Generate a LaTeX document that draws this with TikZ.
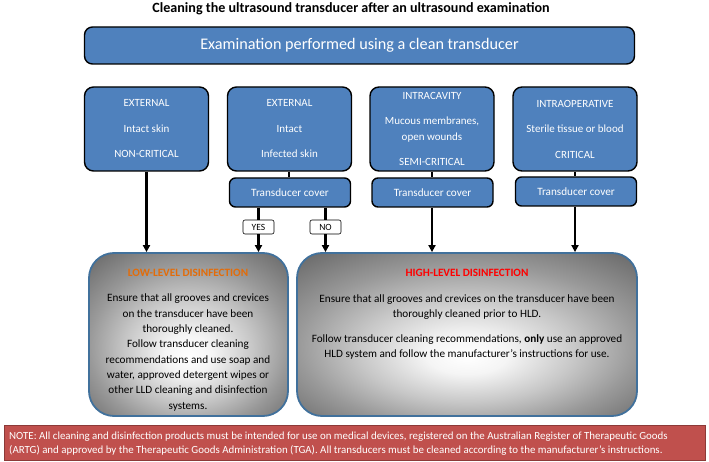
\documentclass[tikz,border=0pt]{standalone}
\usepackage{fontspec}
\setmainfont{Carlito}
\usetikzlibrary{arrows.meta}
\definecolor{boxblue}{HTML}{4F81BD}
\definecolor{edgeblue}{HTML}{41719C}
\definecolor{notered}{HTML}{C0504D}
\definecolor{noteedge}{HTML}{8C3A38}
\definecolor{llorange}{HTML}{E36C09}
\definecolor{hlred}{HTML}{FF0000}
\pgfdeclareradialshading{softrad}{\pgfpoint{0bp}{-7bp}}{%
  color(0bp)=(white); color(6bp)=(black!4); color(16bp)=(black!22);
  color(25bp)=(black!40); color(35bp)=(black!57); color(50bp)=(black!57)}
\tikzset{
  catbox/.style={draw=black, line width=1.4pt, fill=boxblue, rounded corners=9pt,
    text=white, minimum width=124pt, minimum height=84pt, inner sep=0pt,
    align=center, font=\fontsize{11}{12}\selectfont},
  coverbox/.style={draw=black, line width=1.4pt, fill=boxblue, rounded corners=6pt,
    text=white, minimum width=121pt, minimum height=29pt, inner sep=0pt,
    font=\fontsize{11.2}{12}\selectfont},
  yesno/.style={draw=black, line width=0.6pt, fill=white, rounded corners=2pt,
    minimum width=31pt, minimum height=14pt, inner sep=0pt,
    font=\fontsize{9.5}{10}\selectfont},
  disbox/.style={draw=edgeblue, line width=1.8pt, rounded corners=25pt,
    shade, shading=softrad, inner sep=0pt},
  link/.style={line width=2.2pt},
  arrow/.style={line width=2.2pt, -{Triangle[length=7pt,width=7pt]}},
  bodytext/.style={align=center, font=\fontsize{11.2}{15.3}\selectfont, inner sep=0pt}
}
\begin{document}
\begin{tikzpicture}[x=1pt,y=-1pt]
\useasboundingbox[fill=white] (0,0) rectangle (709,462);

\node (title) at (351,9) {\fontsize{14.1}{16}\selectfont\bfseries Cleaning the ultrasound transducer after an ultrasound examination};

\node (top) [draw=black, line width=1.4pt, fill=boxblue, rounded corners=8pt,
  minimum width=550pt, minimum height=37pt, text=white,
  font=\fontsize{16.2}{18}\selectfont] at (359.5,45.5)
  {Examination performed using a clean transducer};

\node (b1) [catbox] at (146.5,129) {EXTERNAL\\[13.5pt]Intact skin\\[13.5pt]NON-CRITICAL};
\node (b2) [catbox] at (289.5,129) {EXTERNAL\\[13.5pt]Intact\\[13.5pt]Infected skin};
\node (b3) [catbox] at (432,129) {INTRACAVITY\\[13pt]Mucous membranes,\\[4pt]open wounds\\[13pt]SEMI-CRITICAL};
\node (b4) [catbox] at (575,129) {INTRAOPERATIVE\\[13.5pt]Sterile tissue or blood\\[13.5pt]CRITICAL};

\node (c2) [coverbox] at (290,192.5) {Transducer cover};
\node (c3) [coverbox] at (432.5,192.5) {Transducer cover};
\node (c4) [coverbox] at (576,191.5) {Transducer cover};

\draw[link] (b2.south -| 289,0) -- (c2.north -| 289,0);
\draw[link] (b3.south) -- (c3.north -| b3.south);
\draw[link] (b4.south) -- (c4.north -| b4.south);

\node (lld) [disbox, minimum width=199pt, minimum height=163pt] at (188.5,334.5) {};
\node (hld) [disbox, minimum width=340pt, minimum height=163pt] at (467,334.5) {};

\node (yes) [yesno] at (258.5,227) {YES};
\node (no) [yesno] at (325.5,227) {NO};

\draw[arrow] (b1.south) -- (b1.south |- lld.north);
\draw[link] (c2.south -| yes.north) -- (yes.north);
\draw[arrow] (yes.south) -- (yes.south |- lld.north);
\draw[link] (c2.south -| no.north) -- (no.north);
\draw[arrow] (no.south) -- (no.south |- hld.north);
\draw[arrow] (c3.south -| 432,0) -- (432,0 |- hld.north);
\draw[arrow] (c4.south -| 575,0) -- (575,0 |- hld.north);

\node (lldtitle) [text=llorange, font=\fontsize{11.2}{12}\selectfont\bfseries] at (188,273) {LOW-LEVEL DISINFECTION};
\node (lldtext) [bodytext] at (188,352.5) {Ensure that all grooves and crevices\\on the transducer have been\\thoroughly cleaned.\\Follow transducer cleaning\\recommendations and use soap and\\water, approved detergent wipes or\\other LLD cleaning and disinfection\\systems.};

\node (hldtitle) [text=hlred, font=\fontsize{11.2}{12}\selectfont\bfseries] at (467,273) {HIGH-LEVEL DISINFECTION};
\node (hldtext) [bodytext] at (467,327) {Ensure that all grooves and crevices on the transducer have been\\thoroughly cleaned prior to HLD.\\[9.7pt]Follow transducer cleaning recommendations, \textbf{only} use an approved\\HLD system and follow the manufacturer’s instructions for use.};

\node (note) [draw=noteedge, line width=1pt, fill=notered, minimum width=701pt,
  minimum height=35pt, inner sep=0pt] at (354.5,442.5) {};
\node (notetext) [anchor=west, align=left, text=white, inner sep=0pt,
  font=\fontsize{10.9}{14}\selectfont] at (9,444)
  {NOTE: All cleaning and disinfection products must be intended for use on medical devices, registered on the Australian Register of Therapeutic Goods\\(ARTG) and approved by the Therapeutic Goods Administration (TGA). All transducers must be cleaned according to the manufacturer’s instructions.};
\end{tikzpicture}
\end{document}
